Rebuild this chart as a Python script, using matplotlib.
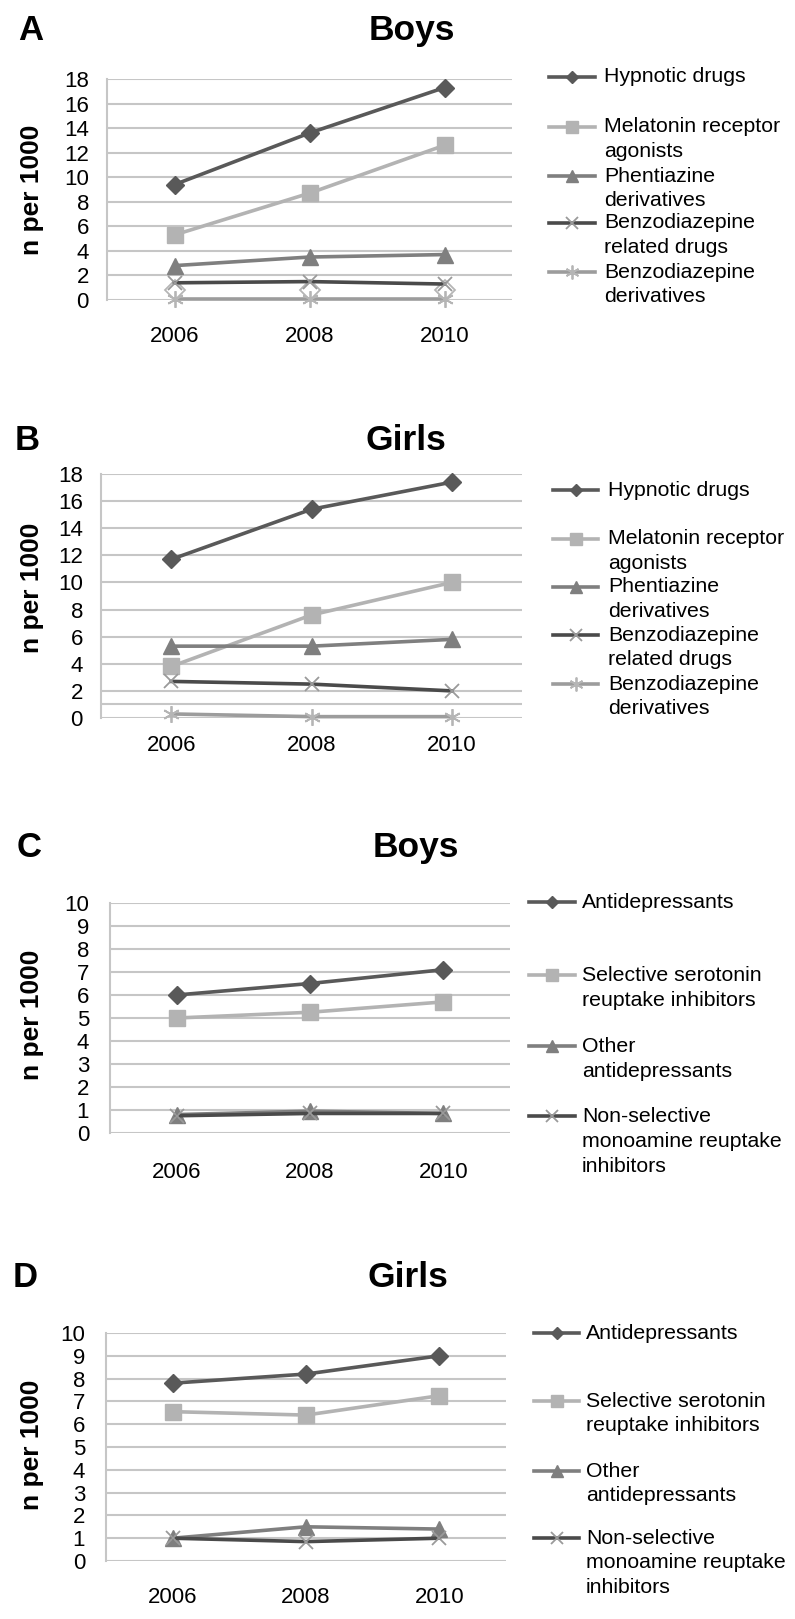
import matplotlib
matplotlib.use("Agg")
import matplotlib.pyplot as plt
from matplotlib.lines import Line2D

plt.rcParams['font.family'] = ['Liberation Sans', 'DejaVu Sans']

W, H = 795, 1619

years = ['2006', '2008', '2010']

# Panel A - hypnotics, boys
a_hypnotic = [9.4, 13.6, 17.3]
a_melatonin = [5.3, 8.7, 12.6]
a_phentiazine = [2.8, 3.5, 3.7]
a_benzo_related = [1.4, 1.5, 1.3]
a_benzo_deriv = [0.1, 0.1, 0.1]
a_unlabelled = [0.8, 0.8, 0.8]

# Panel B - hypnotics, girls
b_hypnotic = [11.7, 15.4, 17.4]
b_melatonin = [3.8, 7.6, 10.0]
b_phentiazine = [5.3, 5.3, 5.8]
b_benzo_related = [2.7, 2.5, 2.0]
b_benzo_deriv = [0.3, 0.1, 0.1]
b_extra_level = 1.0

# Panel C - antidepressants, boys
c_antidep = [6.0, 6.5, 7.1]
c_ssri = [5.0, 5.25, 5.7]
c_other = [0.8, 0.95, 0.85]
c_nonsel = [0.75, 0.85, 0.85]

# Panel D - antidepressants, girls
d_antidep = [7.8, 8.2, 9.0]
d_ssri = [6.55, 6.4, 7.25]
d_other = [1.0, 1.5, 1.4]
d_nonsel = [1.0, 0.85, 1.0]

hyp_labels = ['Hypnotic drugs', 'Melatonin receptor\nagonists', 'Phentiazine\nderivatives',
              'Benzodiazepine\nrelated drugs', 'Benzodiazepine\nderivatives']
ad_labels = ['Antidepressants', 'Selective serotonin\nreuptake inhibitors', 'Other\nantidepressants',
             'Non-selective\nmonoamine reuptake\ninhibitors']

GRID = '#c6c6c6'
STYLES = [
    dict(color='#595959', marker='D', ms=9, mfc='#595959', mec='#595959'),
    dict(color='#b3b3b3', marker='s', ms=11, mfc='#b3b3b3', mec='#b3b3b3'),
    dict(color='#7f7f7f', marker='^', ms=11, mfc='#7f7f7f', mec='#7f7f7f'),
    dict(color='#4a4a4a', marker='x', ms=10, mec='#9a9a9a', mew=1.3),
    dict(color='#9c9c9c', marker=(6, 2, 0), ms=12, mec='#b5b5b5', mew=1.3),
]
LEG_MS = [6, 8, 8, 8, 10]


def fx(px):
    return px / W


def fy(py):
    return 1 - py / H


fig = plt.figure(figsize=(W / 100, H / 100), dpi=100)


def panel(box, ymax, step, series, letter, title, letter_pos, title_pos, ylab_y, xpad, ypad):
    left, right, top, bottom = box
    ax = fig.add_axes([fx(left), fy(bottom), (right - left) / W, (bottom - top) / H])
    x = range(len(years))
    for vals, st in series:
        ax.plot(x, vals, lw=2.6, clip_on=False, zorder=3, **st)
    ax.set_xlim(-0.5, len(years) - 0.5)
    ax.set_ylim(0, ymax)
    ax.set_yticks(range(0, ymax + 1, step))
    ax.set_xticks(list(x))
    ax.set_xticklabels(years)
    ax.yaxis.grid(True, color=GRID, lw=1.5)
    ax.set_axisbelow(True)
    for s in ['top', 'right', 'bottom']:
        ax.spines[s].set_visible(False)
    ax.spines['left'].set_color(GRID)
    ax.spines['left'].set_linewidth(1.5)
    ax.tick_params(axis='both', length=0, labelsize=16, colors='black')
    ax.tick_params(axis='y', pad=ypad)
    ax.tick_params(axis='x', pad=xpad)
    fig.text(fx(letter_pos[0]), fy(letter_pos[1]), letter, fontsize=25, fontweight='bold',
             ha='left', va='baseline')
    fig.text(fx(title_pos[0]), fy(title_pos[1]), title, fontsize=25.5, fontweight='bold',
             ha='center', va='baseline')
    fig.text(fx(32), fy(ylab_y), 'n per 1000', fontsize=19, fontweight='bold',
             rotation=90, ha='center', va='center')
    return ax


def legend(labels, rows, hx0, hx1, tx, spacing):
    for i, (lab, ry) in enumerate(zip(labels, rows)):
        st = dict(STYLES[i])
        st['ms'] = LEG_MS[i]
        fig.add_artist(Line2D([fx(hx0), fx(hx1)], [fy(ry), fy(ry)], transform=fig.transFigure,
                              lw=2.6, color=st['color']))
        mk = {k: v for k, v in st.items() if k != 'color'}
        fig.add_artist(Line2D([fx((hx0 + hx1) / 2)], [fy(ry)], transform=fig.transFigure,
                              lw=0, **mk))
        for j, line in enumerate(lab.split('\n')):
            fig.text(fx(tx), fy(ry + j * spacing), line, fontsize=15.3, ha='left', va='center')


# A
axA = panel((107, 512, 79, 300), 18, 2,
            list(zip([a_hypnotic, a_melatonin, a_phentiazine, a_benzo_related, a_benzo_deriv], STYLES)),
            'A', 'Boys', (18, 40), (412, 40), 190, 19, 13)
axA.plot(range(len(years)), a_unlabelled, lw=0, marker='D', ms=10, mfc='none', mec='#b5b5b5',
         mew=1.3, zorder=2)
legend(hyp_labels, [77, 127, 176, 223, 272], 549, 595, 604, 24.5)

# B
axB = panel((101, 522, 474, 718), 18, 2,
            list(zip([b_hypnotic, b_melatonin, b_phentiazine, b_benzo_related, b_benzo_deriv], STYLES)),
            'B', 'Girls', (15, 450), (406, 450), 588, 12, 13)
axB.axhline(b_extra_level, color=GRID, lw=1.5, zorder=1)
legend(hyp_labels, [490, 539, 587, 635, 684], 553, 598, 608, 24.3)

# C
panel((110, 510, 903, 1133), 10, 1,
      list(zip([c_antidep, c_ssri, c_other, c_nonsel], STYLES)),
      'C', 'Boys', (17, 857), (416, 857), 1015, 21, 15)
legend(ad_labels, [902, 975, 1046, 1116], 529, 575, 582, 25)

# D
panel((106, 506, 1333, 1561), 10, 1,
      list(zip([d_antidep, d_ssri, d_other, d_nonsel], STYLES)),
      'D', 'Girls', (13, 1287), (408, 1287), 1445, 19, 15)
legend(ad_labels, [1333, 1401, 1471, 1538], 534, 579, 586, 24.5)

fig.savefig('out.png', dpi=100)
